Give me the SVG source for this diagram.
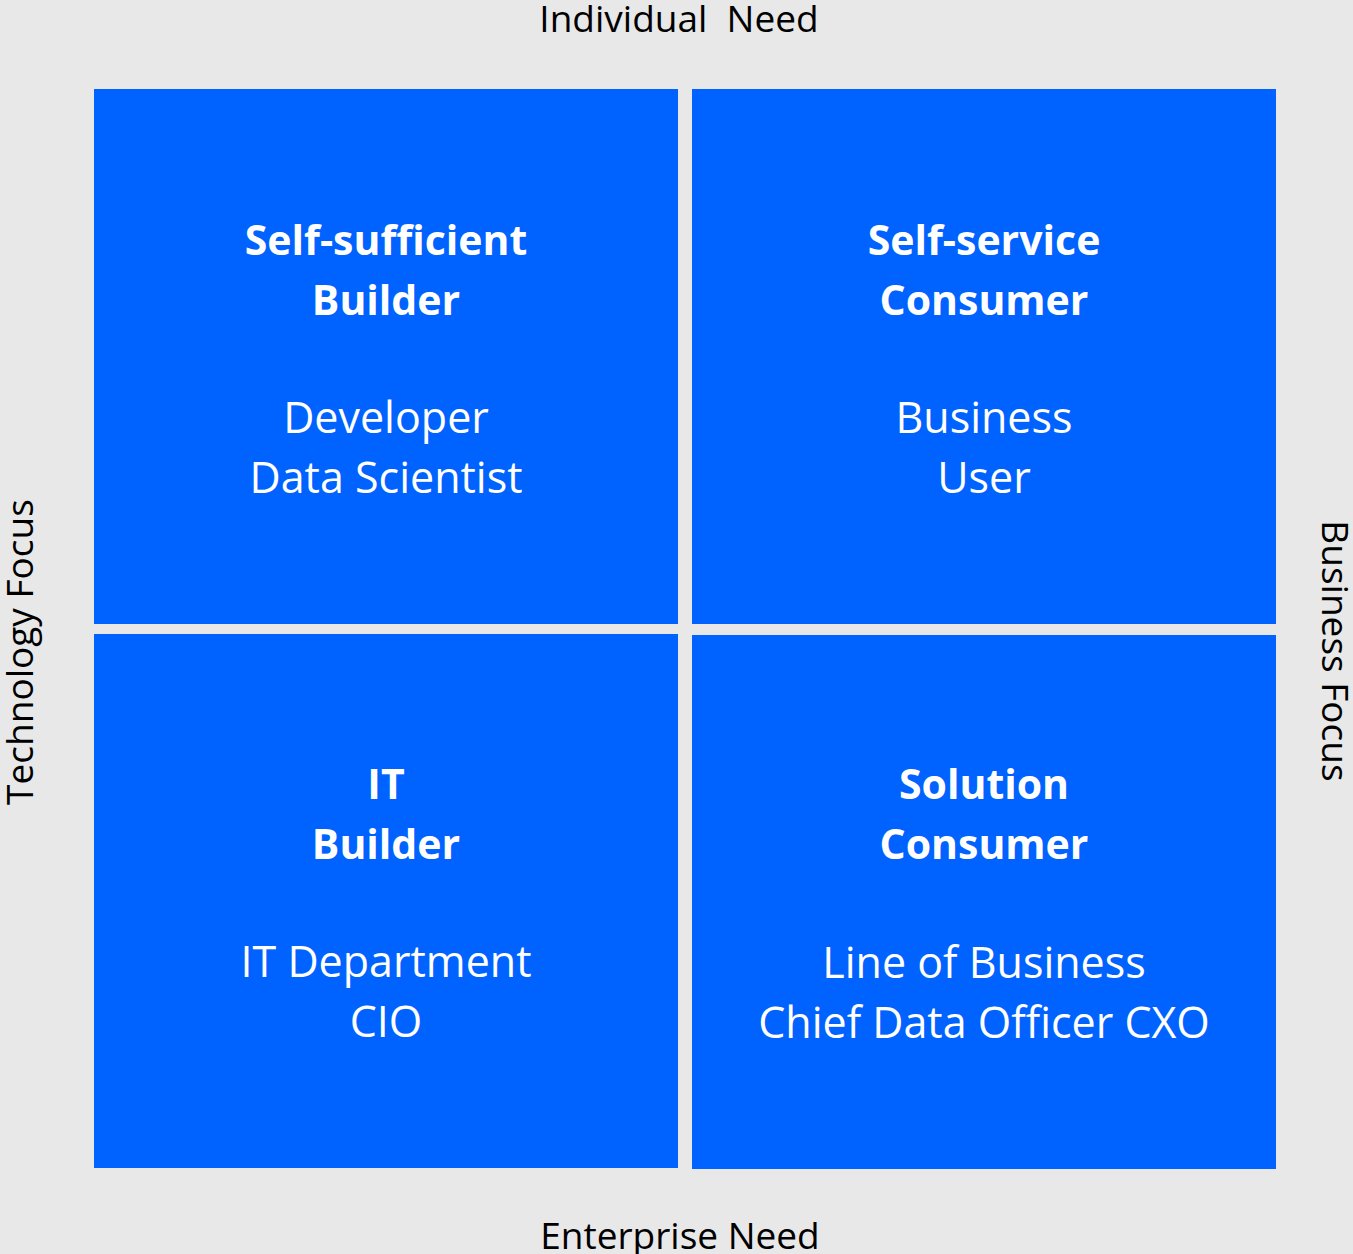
<svg xmlns="http://www.w3.org/2000/svg" width="1353" height="1254" viewBox="0 0 1353 1254">
<style>
.q{fill:#0062FF}
.t{font-family:"Open Sans","Noto Sans",sans-serif;fill:#fff;text-anchor:middle;font-size:43px}
.h{font-weight:bold;font-size:41px}
.ax{font-family:"Open Sans","Noto Sans",sans-serif;fill:#000;text-anchor:middle;font-size:37px;white-space:pre}
</style>
<rect width="1353" height="1254" fill="#E8E8E8"/>
<g id="axes">
<text class="ax" x="679" y="32" xml:space="preserve">Individual  Need</text>
<text class="ax" x="680" y="1249">Enterprise Need</text>
<text class="ax" transform="translate(33,652) rotate(-90)">Technology Focus</text>
<text class="ax" transform="translate(1322,651) rotate(90)">Business Focus</text>
</g>
<g id="q1"><rect class="q" x="94" y="89" width="584" height="535"/>
<text class="t h" x="386" y="255">Self-sufficient</text><text class="t h" x="386" y="315">Builder</text>
<text class="t" x="386" y="433">Developer</text><text class="t" x="386" y="493">Data Scientist</text></g>
<g id="q2"><rect class="q" x="692" y="89" width="584" height="535"/>
<text class="t h" x="984" y="255">Self-service</text><text class="t h" x="984" y="315">Consumer</text>
<text class="t" x="984" y="433">Business</text><text class="t" x="984" y="493">User</text></g>
<g id="q3"><rect class="q" x="94" y="634" width="584" height="534"/>
<text class="t h" x="386" y="799">IT</text><text class="t h" x="386" y="859">Builder</text>
<text class="t" x="386" y="977">IT Department</text><text class="t" x="386" y="1037">CIO</text></g>
<g id="q4"><rect class="q" x="692" y="635" width="584" height="534"/>
<text class="t h" x="984" y="799">Solution</text><text class="t h" x="984" y="859">Consumer</text>
<text class="t" x="984" y="978">Line of Business</text><text class="t" x="984" y="1038">Chief Data Officer CXO</text></g>
<g id="connectors"/>
</svg>
